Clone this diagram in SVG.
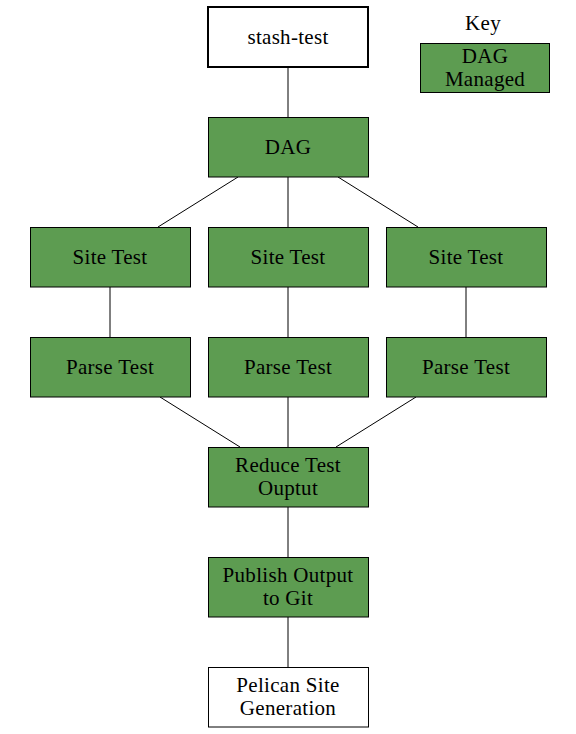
<svg xmlns="http://www.w3.org/2000/svg" width="576" height="734" viewBox="0 0 576 734">
<style>
.box{fill:#5d9c51;stroke:#000;stroke-width:1}
.wbox{fill:#fff;stroke:#000;stroke-width:1}
text{font-family:"Liberation Serif","Times New Roman",serif;font-size:21px;letter-spacing:0.3px;fill:#000;text-anchor:middle}
#connectors line{stroke:#000;stroke-width:1}
</style>
<rect width="576" height="734" fill="#fff"/>
<g id="connectors">
<line x1="288" y1="67" x2="288" y2="117"/>
<line x1="238" y1="177" x2="158" y2="227"/>
<line x1="288" y1="177" x2="288" y2="227"/>
<line x1="338" y1="177" x2="418" y2="227"/>
<line x1="110" y1="287" x2="110" y2="337"/>
<line x1="288" y1="287" x2="288" y2="337"/>
<line x1="466" y1="287" x2="466" y2="337"/>
<line x1="160" y1="397" x2="240" y2="447"/>
<line x1="288" y1="397" x2="288" y2="447"/>
<line x1="416" y1="397" x2="336" y2="447"/>
<line x1="288" y1="507" x2="288" y2="557"/>
<line x1="288" y1="617" x2="288" y2="667"/>
</g>
<g id="stash-test"><rect class="wbox" x="208" y="7" width="160" height="60" style="stroke-width:2"/><text x="288" y="43.5">stash-test</text></g>
<g id="key"><text x="483" y="29.5">Key</text><rect class="box" x="420.5" y="43.5" width="129" height="49"/><text x="485" y="62.5">DAG</text><text x="485" y="86">Managed</text></g>
<g id="dag"><rect class="box" x="208.5" y="117.5" width="160" height="59.5"/><text x="288" y="153.5">DAG</text></g>
<g id="site1"><rect class="box" x="30.5" y="227.5" width="160" height="59.5"/><text x="110" y="263.5">Site Test</text></g>
<g id="site2"><rect class="box" x="208.5" y="227.5" width="160" height="59.5"/><text x="288" y="263.5">Site Test</text></g>
<g id="site3"><rect class="box" x="386.5" y="227.5" width="160" height="59.5"/><text x="466" y="263.5">Site Test</text></g>
<g id="parse1"><rect class="box" x="30.5" y="337.5" width="160" height="59.5"/><text x="110" y="373.5">Parse Test</text></g>
<g id="parse2"><rect class="box" x="208.5" y="337.5" width="160" height="59.5"/><text x="288" y="373.5">Parse Test</text></g>
<g id="parse3"><rect class="box" x="386.5" y="337.5" width="160" height="59.5"/><text x="466" y="373.5">Parse Test</text></g>
<g id="reduce"><rect class="box" x="208.5" y="447.5" width="160" height="59.5"/><text x="288" y="471.5">Reduce Test</text><text x="288" y="495">Ouptut</text></g>
<g id="publish"><rect class="box" x="208.5" y="557.5" width="160" height="59.5"/><text x="288" y="581.5">Publish Output</text><text x="288" y="605">to Git</text></g>
<g id="pelican"><rect class="wbox" x="208.5" y="667.5" width="160" height="59.5"/><text x="288" y="691.5">Pelican Site</text><text x="288" y="715">Generation</text></g>
</svg>
